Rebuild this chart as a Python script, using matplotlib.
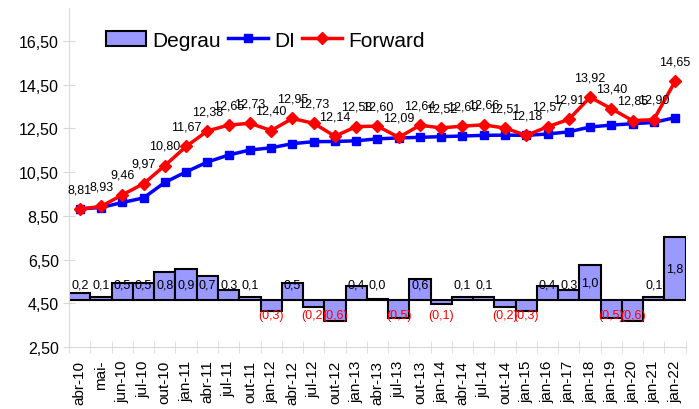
import numpy as np
import matplotlib.pyplot as plt
from matplotlib.ticker import FixedLocator

plt.rcParams['font.family'] = ['Liberation Sans', 'DejaVu Sans']

labels = ['abr-10', 'mai-', 'jun-10', 'jul-10', 'out-10', 'jan-11', 'abr-11', 'jul-11',
          'out-11', 'jan-12', 'abr-12', 'jul-12', 'out-12', 'jan-13', 'abr-13', 'jul-13',
          'out-13', 'jan-14', 'abr-14', 'jul-14', 'out-14', 'jan-15', 'jan-16', 'jan-17',
          'jan-18', 'jan-19', 'jan-20', 'jan-21', 'jan-22']
forward = [8.81, 8.93, 9.46, 9.97, 10.80, 11.67, 12.38, 12.65, 12.73, 12.40, 12.95, 12.73,
           12.14, 12.58, 12.60, 12.09, 12.64, 12.52, 12.60, 12.66, 12.51, 12.18, 12.57,
           12.91, 13.92, 13.40, 12.85, 12.90, 14.65]
di = [8.82, 8.88, 9.11, 9.32, 10.03, 10.51, 10.96, 11.28, 11.51, 11.61, 11.80, 11.89,
      11.90, 11.93, 12.02, 12.06, 12.09, 12.12, 12.15, 12.18, 12.19, 12.18, 12.24, 12.34,
      12.56, 12.65, 12.71, 12.77, 12.99]
degrau = [0.2, 0.1, 0.5, 0.5, 0.8, 0.9, 0.7, 0.3, 0.1, -0.3, 0.5, -0.2, -0.6, 0.4, 0.02,
          -0.5, 0.6, -0.1, 0.1, 0.1, -0.2, -0.3, 0.4, 0.3, 1.0, -0.5, -0.6, 0.1, 1.8]
yticks = [2.5, 4.5, 6.5, 8.5, 10.5, 12.5, 14.5, 16.5]

x = np.arange(len(labels))
fig = plt.figure(figsize=(6.99, 4.10), dpi=100)
ax = fig.add_axes([0.099, 0.151, 0.882, 0.827])
axb = ax.twinx()
ax.set_zorder(axb.get_zorder() + 1)
ax.patch.set_visible(False)

# bars on hidden secondary axis
ylo, yhi = 2.5, 18.0
base, k = 4.65, 1.6
axb.set_ylim((ylo - base) / k, (yhi - base) / k)
bars = axb.bar(x, degrau, width=1.0, color='#9999FF', edgecolor='black', linewidth=1.5,
               label='Degrau')
axb.set_yticks([])
for s in axb.spines.values():
    s.set_visible(False)
for xi, v in zip(x, degrau):
    if v >= 0:
        axb.text(xi, max(v / 2, 0.45), f'{v:.1f}'.replace('.', ','), ha='center',
                 va='center', fontsize=9)
    else:
        axb.text(xi, -0.43, f'({abs(v):.1f})'.replace('.', ','), ha='center',
                 va='center', fontsize=9, color='red')

l1, = ax.plot(x, di, color='#0000FF', lw=2.5, marker='s', ms=6, label='DI')
l2, = ax.plot(x, forward, color='#FF0000', lw=2.5, marker='D', ms=6, label='Forward')
for xi, v in zip(x, forward):
    ax.annotate(f'{v:.2f}'.replace('.', ','), (xi, v), xytext=(0, 10),
                textcoords='offset points', ha='center', va='bottom', fontsize=9)

ax.set_xlim(-0.5, len(labels) - 0.5)
ax.set_ylim(ylo, yhi)
ax.set_yticks(yticks)
ax.set_yticklabels([f'{t:.2f}'.replace('.', ',') for t in yticks], fontsize=11.5)
ax.set_xticks(x)
ax.set_xticklabels(labels, rotation=90, fontsize=11)
ax.tick_params(axis='x', length=0, pad=9)
ax.xaxis.set_minor_locator(FixedLocator(np.arange(-0.5, len(labels), 1.0)))
ax.tick_params(axis='x', which='minor', direction='inout', length=8, color='#D9D9D9')
ax.tick_params(axis='y', direction='inout', length=8, color='#D9D9D9')
for s in ['top', 'right']:
    ax.spines[s].set_visible(False)
ax.spines['left'].set_color('#D9D9D9')
ax.spines['bottom'].set_color('#D9D9D9')

ax.legend([bars, l1, l2], ['Degrau', 'DI', 'Forward'], loc='center',
          bbox_to_anchor=(0.318, 0.905), ncol=3, frameon=False, fontsize=15,
          handlelength=1.9, handletextpad=0.3, columnspacing=0.35)

fig.savefig('out.png', dpi=100)
